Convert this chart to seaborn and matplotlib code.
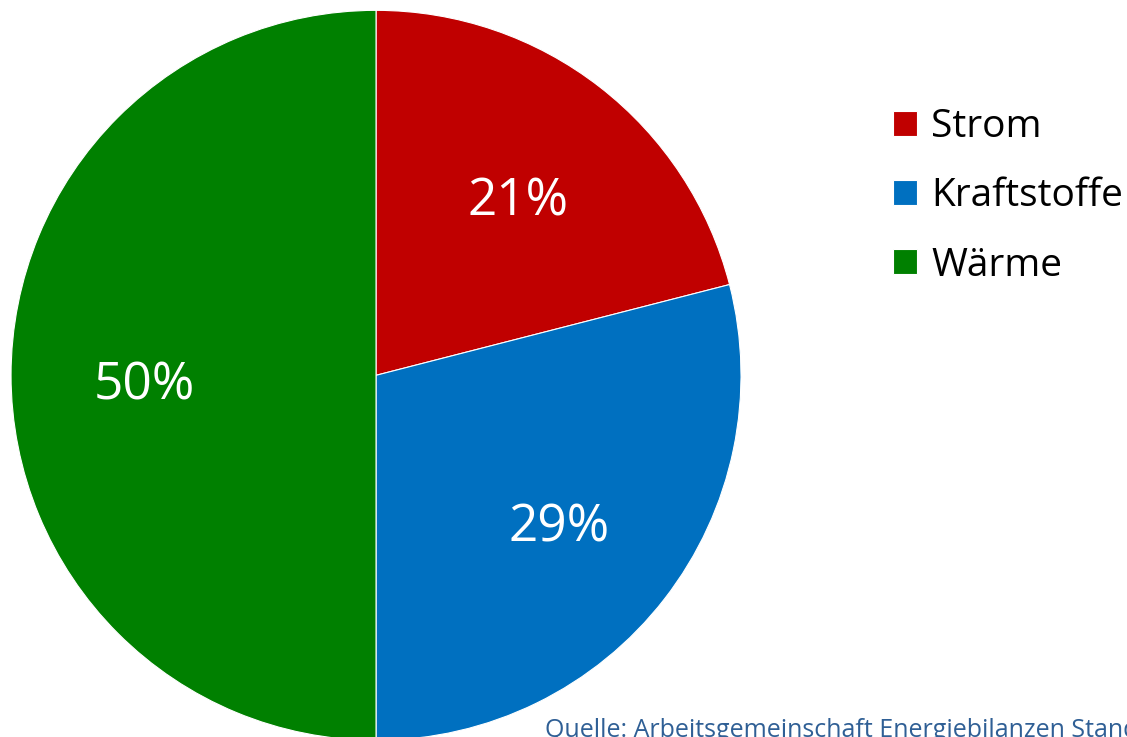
import matplotlib
matplotlib.use('Agg')
import matplotlib.pyplot as plt
import seaborn as sns

# Anteile am Endenergieverbrauch
categories = ['Strom', 'Kraftstoffe', 'Wärme']
shares = [21, 29, 50]
colors = ['#C00000', '#0070C0', '#008000']
source = 'Quelle: Arbeitsgemeinschaft Energiebilanzen Stand'

sns.set_theme(style='white')
plt.rcParams['font.family'] = ['Open Sans', 'DejaVu Sans']

fig = plt.figure(figsize=(11.27, 7.37), dpi=100)
ax = fig.add_axes([0.0098, -0.0045, 0.6477, 0.9905])

wedges, texts, autotexts = ax.pie(
    shares, colors=sns.color_palette(colors), startangle=90, counterclock=False,
    autopct='%d%%', pctdistance=0.635, radius=1,
    wedgeprops=dict(edgecolor='white', linewidth=0.8),
    textprops=dict(color='white', fontsize=37))
# matplotlib centres on the full text box; nudge down to centre the digits
for t in autotexts:
    x, y = t.get_position()
    t.set_position((x, y - 0.028))
ax.set_xlim(-1, 1)
ax.set_ylim(-1, 1)
ax.set_aspect('equal')
ax.axis('off')

leg = fig.legend(wedges, categories, loc='upper left', bbox_to_anchor=(0.792, 0.853),
                 frameon=False, fontsize=28, handlelength=0.62, handleheight=0.62,
                 handletextpad=0.38, labelspacing=0.8, borderaxespad=0, borderpad=0)
for t in leg.get_texts():
    t.set_color('black')

fig.text(0.484, 0.0, source, color='#2F5F95', fontsize=18, va='baseline', ha='left')

fig.savefig('out.png', dpi=100)
plt.close(fig)
